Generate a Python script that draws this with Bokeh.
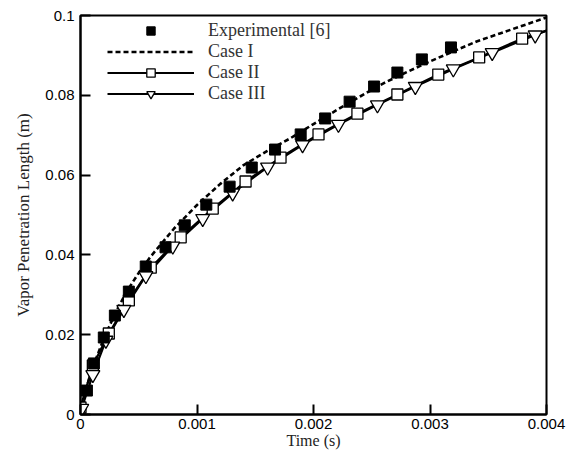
from bokeh.plotting import figure
from bokeh.models import Range1d, FixedTicker, Legend, LegendItem
from bokeh.embed import file_html
from bokeh.resources import INLINE

# Axis ticks and their printed labels
time_ticks = [0, 0.001, 0.002, 0.003, 0.004]
time_tick_labels = ["0", "0.001", "0.002", "0.003", "0.004"]
length_ticks = [0, 0.02, 0.04, 0.06, 0.08, 0.1]
length_tick_labels = ["0", "0.02", "0.04", "0.06", "0.08", "0.1"]

# Experimental vapor penetration [6]
exp_time = [0.000055, 0.000115, 0.00020, 0.000295, 0.000415, 0.00056, 0.00073,
            0.000895, 0.00108, 0.00128, 0.00147, 0.00167, 0.00189, 0.00210,
            0.00231, 0.00252, 0.00272, 0.00293, 0.00318]
exp_length = [0.0060, 0.0128, 0.0193, 0.0248, 0.0308, 0.0371, 0.0419,
              0.0474, 0.0526, 0.0571, 0.0619, 0.0664, 0.0702, 0.0742,
              0.0784, 0.0822, 0.0857, 0.0890, 0.0920]

# Case I
case1_time = [0, 0.00005, 0.0001, 0.0002, 0.0003, 0.0004, 0.0005, 0.0006, 0.0008,
              0.0010, 0.0012, 0.0014, 0.0016, 0.0018, 0.0020, 0.0022, 0.0024,
              0.0026, 0.0028, 0.0030, 0.0032, 0.0034, 0.0036, 0.0038, 0.0040]
case1_length = [0, 0.0065, 0.0115, 0.0190, 0.0255, 0.0310, 0.0355, 0.0395, 0.0465,
                0.0525, 0.0578, 0.0625, 0.0660, 0.0692, 0.0728, 0.0763, 0.0797,
                0.0830, 0.0858, 0.0885, 0.0910, 0.0935, 0.0955, 0.0975, 0.0995]

# Case II
case2_time = [0, 0.000106, 0.000243, 0.000415, 0.000603, 0.00086, 0.001135,
              0.001417, 0.001717, 0.002043, 0.002377, 0.00272, 0.003071,
              0.003422, 0.003791, 0.0040]
case2_length = [0.00175, 0.0123, 0.0203, 0.0286, 0.0368, 0.0444, 0.0516,
                0.0584, 0.0644, 0.0702, 0.0754, 0.0802, 0.0852,
                0.0895, 0.0942, 0.0962]

# Case III
case3_time = [0.00001, 0.000106, 0.000218, 0.000372, 0.000561, 0.000792, 0.001049,
              0.001306, 0.001606, 0.001906, 0.002214, 0.002549, 0.002874,
              0.0032, 0.003534, 0.003903, 0.0040]
case3_length = [0.0015, 0.0100, 0.0186, 0.0263, 0.0348, 0.0422, 0.0491,
                0.0555, 0.0620, 0.0676, 0.0727, 0.0776, 0.0822,
                0.0866, 0.0907, 0.0951, 0.0962]

SERIF = "Liberation Serif"
SANS = "Liberation Sans"

p = figure(
    width=574, height=452,
    x_range=Range1d(0, 0.004), y_range=Range1d(0, 0.1),
    output_backend="svg", toolbar_location=None,
    min_border_left=80, min_border_right=28,
    min_border_top=15, min_border_bottom=38,
    background_fill_color="white", border_fill_color="white",
)
p.grid.visible = False
p.outline_line_color = "black"
p.outline_line_width = 2

for ax in (p.xaxis[0], p.yaxis[0]):
    ax.axis_line_width = 2
    ax.axis_line_color = "black"
    ax.major_tick_in = 10
    ax.major_tick_out = 0
    ax.major_tick_line_width = 2
    ax.minor_tick_line_color = None
    ax.major_label_text_font = SANS
    ax.major_label_text_font_size = "15px"
    ax.major_label_text_color = "black"
    ax.axis_label_text_font = SERIF
    ax.axis_label_text_font_style = "normal"
    ax.axis_label_text_color = "#222222"

p.xaxis[0].ticker = FixedTicker(ticks=time_ticks)
p.xaxis[0].major_label_overrides = dict(zip(time_ticks, time_tick_labels))
p.xaxis[0].major_label_standoff = 4
p.xaxis[0].axis_label = "Time (s)"
p.xaxis[0].axis_label_text_font_size = "16px"
p.xaxis[0].axis_label_standoff = 0

p.yaxis[0].ticker = FixedTicker(ticks=length_ticks)
p.yaxis[0].major_label_overrides = dict(zip(length_ticks, length_tick_labels))
p.yaxis[0].major_label_standoff = 6
p.yaxis[0].axis_label = "Vapor Penetration Length (m)"
p.yaxis[0].axis_label_text_font_size = "17px"
p.yaxis[0].axis_label_standoff = 9

# Simulation curves
c2_line = p.line(case2_time, case2_length, line_color="black", line_width=2.2)
c3_line = p.line(case3_time, case3_length, line_color="black", line_width=2.2)
c1_line = p.line(case1_time, case1_length, line_color="black", line_width=2.6,
                 line_dash="5 3")
c2_mark = p.scatter(case2_time[:-1], case2_length[:-1], marker="square", size=11,
                    fill_color="white", line_color="black", line_width=1.3)
c3_mark = p.scatter(case3_time[:-1], case3_length[:-1], marker="inverted_triangle",
                    size=14, fill_color="white", line_color="black", line_width=1.3)
exp_mark = p.scatter(exp_time, exp_length, marker="square", size=11,
                     fill_color="black", line_color="black")

legend = Legend(
    items=[
        LegendItem(label="Experimental [6]", renderers=[exp_mark]),
        LegendItem(label="Case I", renderers=[c1_line]),
        LegendItem(label="Case II", renderers=[c2_line, c2_mark]),
        LegendItem(label="Case III", renderers=[c3_line, c3_mark]),
    ],
    location=(27, 310),
    glyph_width=87, glyph_height=21, label_height=21, spacing=0,
    label_standoff=14, padding=0, margin=0,
    label_text_font=SERIF, label_text_font_size="18px",
    label_text_color="#333333",
    border_line_alpha=0, background_fill_alpha=0,
)
p.add_layout(legend)

open("out.html", "w").write(file_html(p, INLINE))
